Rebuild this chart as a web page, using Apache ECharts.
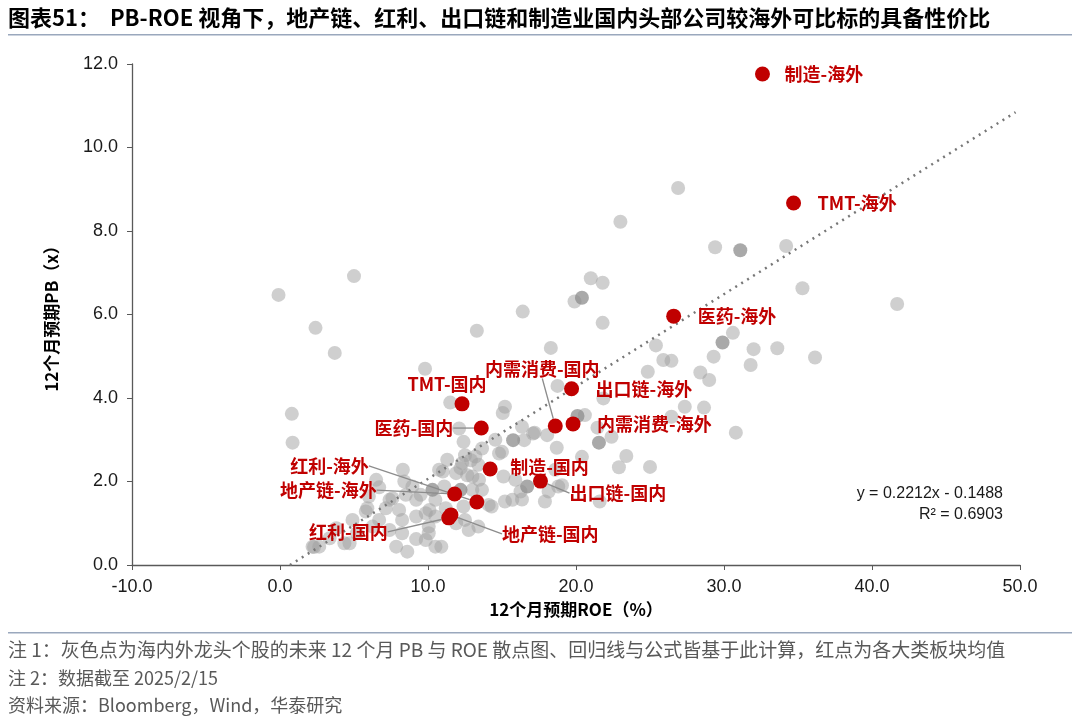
<!DOCTYPE html>
<html>
<head>
<meta charset="utf-8">
<script src="https://cdn.jsdelivr.net/npm/echarts@6/dist/echarts.min.js"></script>
<style>
html,body{margin:0;padding:0;background:#fff;}
#c{width:1080px;height:716px;}
</style>
</head>
<body>
<div id="c"></div>
<script>
// ---- data ----
const grayROE = [-0.1,0.8,0.85,2.4,3.7,5.0,13.3,16.4,18.3,9.8,19.9,21.0,21.8,21.8,23.0,26.9,29.4,34.2,35.3,41.7,36.15,30.6,25.4,32.0,33.6,25.9,26.45,29.3,31.8,24.85,28.4,29.0,21.85,27.35,28.65,30.8,26.45,20.6,21.45,22.4,23.4,22.9,25.0,18.75,15.2,15.05,11.5,12.1,12.4,16.35,17.2,18.05,16.5,14.55,13.65,18.7,14.8,13.2,12.5,12.9,12.3,11.3,13.4,20.4,11.9,12.65,15.1,13.45,15.9,18.6,19.05,16.25,18.15,16.35,17.9,21.6,15.2,14.3,14.1,15.7,12.4,13.0,13.65,11.1,11.2,12.5,13.4,10.9,12.2,11.0,10.75,8.3,8.4,8.95,6.5,6.7,10.5,9.2,7.4,6.0,5.9,7.15,8.05,8.25,9.2,9.85,10.5,6.7,6.25,7.4,4.9,5.2,4.35,2.2,3.35,7.85,8.6,9.2,9.85,10.5,8.25,10.05,3.8,9.5,8.5,7.6,10.1,12.75,11.9,10.05,5.8,4.7,2.65,15.0,18.8,17.1,13.0,2.3];
const grayPB  = [6.47,3.62,2.93,5.68,5.08,6.92,5.61,6.07,5.20,4.70,6.31,6.87,6.76,5.80,8.22,9.03,7.61,7.64,6.63,6.25,4.97,5.56,5.26,5.17,5.19,4.91,4.89,4.99,4.79,4.63,4.61,4.43,3.99,3.79,3.77,3.17,3.55,3.59,3.29,3.07,2.61,2.34,2.35,4.29,3.79,3.64,3.89,3.27,2.95,3.31,3.17,3.11,2.99,3.0,2.79,2.81,2.67,2.6,2.63,2.51,2.44,2.52,2.40,2.59,2.20,2.15,2.12,2.04,2.04,2.28,1.91,1.76,1.76,1.57,1.52,1.52,1.52,1.40,1.44,1.56,1.40,1.80,1.80,1.88,1.36,1.08,0.92,0.44,2.32,2.24,2.28,2.28,2.0,1.88,2.04,1.86,1.56,1.56,1.56,1.64,1.36,1.36,1.32,1.08,1.16,1.24,1.16,1.08,0.92,0.84,1.08,0.76,0.52,0.44,0.64,0.44,0.32,0.62,0.60,0.44,0.76,0.76,0.88,1.68,1.68,1.60,1.32,0.84,1.0,0.92,1.28,0.52,0.44,2.71,1.88,3.15,2.12,0.43];
const darkROE = [20.4,31.1,29.9,20.1,21.55,15.75,16.7,12.2,10.3];
const darkPB  = [6.40,7.54,5.33,3.57,2.93,2.99,1.88,1.80,1.80];

const redNames = ['制造-海外','TMT-海外','医药-海外','出口链-海外','内需消费-国内','内需消费-海外','TMT-国内','医药-国内','制造-国内','出口链-国内','红利-海外','地产链-海外','红利-国内','地产链-国内'];
const redROE = [32.6,34.7,26.6,19.7,18.6,19.8,12.3,13.6,14.2,17.6,13.3,11.8,11.4,11.55];
const redPB  = [11.76,8.67,5.96,4.22,3.33,3.38,3.86,3.28,2.30,2.01,1.51,1.70,1.13,1.20];

const trendSlope = 0.2212, trendIntercept = -0.1488;
const trendXRange = [0.67, 49.7];

const xTicks = {min:-10, max:50, interval:10};
const yTicks = {min:0, max:12, interval:2};

// ---- label styling (pixel offsets, not data) ----
const labelCfg = {
  '制造-海外':    {pos:'right', dx:14.5, dy:0, line:false},
  'TMT-海外':     {pos:'right', dx:16.5, dy:0, line:false},
  '医药-海外':    {pos:'right', dx:16.5, dy:0, line:false},
  '出口链-海外':  {pos:'right', dx:16.5, dy:0, line:false},
  '内需消费-国内':{pos:'top',   dx:-13,  dy:-40, line:true},
  '内需消费-海外':{pos:'right', dx:16.5, dy:0, line:false},
  'TMT-国内':     {pos:'top',   dx:-15,  dy:-3.5, line:false},
  '医药-国内':    {pos:'left',  dx:-20.5,dy:0, line:true},
  '制造-国内':    {pos:'right', dx:12.5, dy:-2, line:false},
  '出口链-国内':  {pos:'right', dx:21.5, dy:12, line:true},
  '红利-海外':    {pos:'left',  dx:-100.5, dy:-36, line:true},
  '地产链-海外':  {pos:'left',  dx:-70.5, dy:-4, line:true},
  '红利-国内':    {pos:'left',  dx:-53.5, dy:14, line:true},
  '地产链-国内':  {pos:'right', dx:43.5, dy:19, line:true}
};

const grayData = grayROE.map((x,i)=>[x, grayPB[i]]);
const darkData = darkROE.map((x,i)=>[x, darkPB[i]]);
const redData = redNames.map((n,i)=>({
  name:n, value:[redROE[i], redPB[i]],
  label:{position:labelCfg[n].pos},
  labelLine:{show:labelCfg[n].line}
}));
const trendData = trendXRange.map(x=>[x, trendSlope*x + trendIntercept]);

const chart = echarts.init(document.getElementById('c'), null, {renderer:'canvas'});
const axisColor = '#595959';
const cjk = '"Noto Sans CJK SC", sans-serif';
const latin = '"Liberation Sans", Arial, sans-serif';
chart.setOption({
  animation:false,
  backgroundColor:'#fff',
  grid:{left:132, right:60, top:64, bottom:151},
  xAxis:{
    type:'value', min:xTicks.min, max:xTicks.max, interval:xTicks.interval,
    name:'12个月预期ROE（%）', nameLocation:'middle', nameGap:33,
    nameTextStyle:{fontFamily:cjk, fontWeight:'bold', fontSize:17, color:'#000'},
    axisLine:{show:true, onZero:false, lineStyle:{color:axisColor, width:1.3}},
    axisTick:{show:true, inside:false, length:5, lineStyle:{color:axisColor}},
    axisLabel:{formatter:v=>v.toFixed(1), fontFamily:latin, fontSize:18, color:'#1a1a1a', margin:13},
    splitLine:{show:false}
  },
  yAxis:{
    type:'value', min:yTicks.min, max:yTicks.max, interval:yTicks.interval,
    name:'12个月预期PB（x）', nameLocation:'middle', nameGap:72, nameRotate:90,
    nameTextStyle:{fontFamily:cjk, fontWeight:'bold', fontSize:17, color:'#000'},
    axisLine:{show:true, onZero:false, lineStyle:{color:axisColor, width:1.3}},
    axisTick:{show:true, inside:false, length:5, lineStyle:{color:axisColor}},
    axisLabel:{formatter:v=>v.toFixed(1), fontFamily:latin, fontSize:18, color:'#1a1a1a', margin:14},
    splitLine:{show:false}
  },
  series:[
    {type:'scatter', data:grayData, symbolSize:14, z:1,
     itemStyle:{color:'rgba(160,160,160,0.5)', opacity:1}, silent:true},
    {type:'scatter', data:darkData, symbolSize:14, z:2,
     itemStyle:{color:'rgba(140,140,140,0.75)', opacity:1}, silent:true},
    {type:'line', data:trendData, symbol:'none', z:3, silent:true,
     lineStyle:{color:'#777', width:2.5, type:[2,5]}},
    {type:'scatter', data:redData, symbolSize:15, z:5,
     itemStyle:{color:'#C00000', opacity:1},
     label:{show:true, formatter:'{b}', distance:0, color:'#C00000', fontFamily:cjk, fontWeight:'bold', fontSize:18},
     labelLine:{show:false, lineStyle:{color:'#8c8c8c', width:1.3}},
     labelLayout:function(p){const c=labelCfg[redNames[p.dataIndex]];return {dx:c.dx, dy:c.dy};}
    }
  ],
  graphic:[
    {type:'text', x:8, y:18, style:{text:'图表51：  PB-ROE 视角下，地产链、红利、出口链和制造业国内头部公司较海外可比标的具备性价比', font:'bold 22px '+cjk, fill:'#000', verticalAlign:'middle'}},
    {type:'rect', shape:{x:8, y:34, width:1064, height:1.5}, style:{fill:'#9aa8bd'}},
    {type:'rect', shape:{x:8, y:632, width:1064, height:1.5}, style:{fill:'#9aa8bd'}},
    {type:'text', x:8, y:650, style:{text:'注 1：灰色点为海内外龙头个股的未来 12 个月 PB 与 ROE 散点图、回归线与公式皆基于此计算，红点为各大类板块均值', font:'19px '+cjk, fill:'#595959', verticalAlign:'middle'}},
    {type:'text', x:8, y:678, style:{text:'注 2：数据截至 2025/2/15', font:'18px '+cjk, fill:'#595959', verticalAlign:'middle'}},
    {type:'text', x:8, y:705, style:{text:'资料来源：Bloomberg，Wind，华泰研究', font:'18px '+cjk, fill:'#595959', verticalAlign:'middle'}},
    {type:'text', x:1003, y:494, style:{text:'y = 0.2212x - 0.1488', font:'16px '+latin, fill:'#1a1a1a', align:'right', verticalAlign:'middle'}},
    {type:'text', x:1003, y:515, style:{text:'R² = 0.6903', font:'16px '+latin, fill:'#1a1a1a', align:'right', verticalAlign:'middle'}}
  ]
});
</script>
</body>
</html>
